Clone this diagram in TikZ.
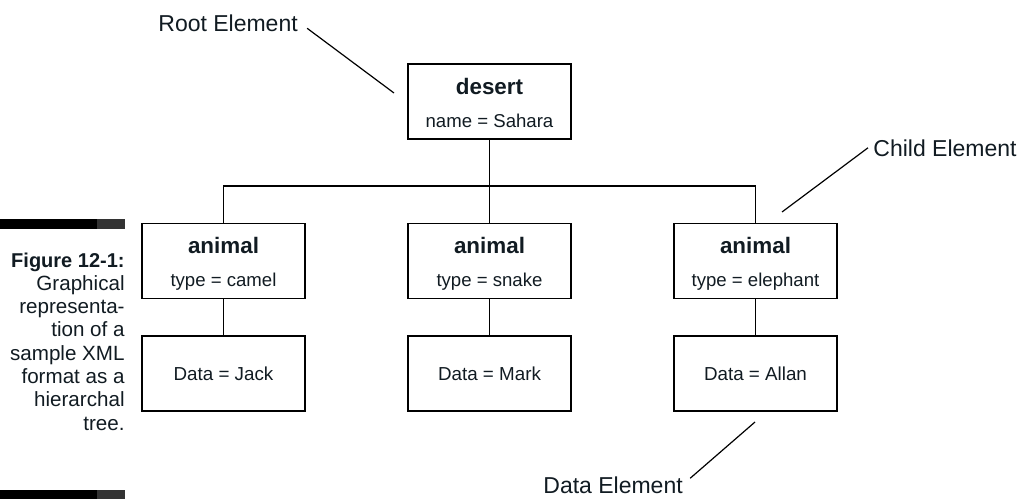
\documentclass[tikz,border=0pt]{standalone}
\usepackage{fontspec}
\setmainfont{Liberation Sans}
\usepackage{tikz}

\definecolor{ink}{HTML}{111B22}
\definecolor{bargray}{HTML}{333333}

\tikzset{
  elem/.style={draw, line width=0.75pt, minimum width=81.5pt, minimum height=37.5pt, inner sep=0pt},
  tagname/.style={font=\bfseries\fontsize{11.2}{13}\selectfont, text=ink, anchor=base},
  attr/.style={font=\fontsize{9.3}{11}\selectfont, text=ink, anchor=base},
  callout/.style={font=\fontsize{11.5}{13}\selectfont, text=ink, anchor=base west, inner sep=0pt},
  caption/.style={font=\fontsize{10.3}{12}\selectfont, text=ink, anchor=base east, inner sep=0pt},
  link/.style={line width=0.6pt}
}

\begin{document}
\begin{tikzpicture}[x=0.5pt,y=-0.5pt]
  \useasboundingbox (0,0) rectangle (1022,499);

  % side caption with its two bars
  \fill (0,219) rectangle (97,229);
  \fill[bargray] (97,219) rectangle (125,229);
  \fill (0,490) rectangle (97,499);
  \fill[bargray] (97,490) rectangle (125,499);
  \node[caption, font=\bfseries\fontsize{10}{12}\selectfont] (fig) at (125,267) {Figure 12-1:};
  \foreach \ln [count=\i] in {Graphical, representa-, tion of a, sample XML, format as a, hierarchal, tree.}
    \node[caption] (cap\i) at (125,267+23.3*\i) {\ln};

  % root element
  \node[elem] (desert) at (489.5,101.5) {};
  \node[tagname] (desertT) at ([yshift=-15.5pt]desert.north) {desert};
  \node[attr] (desertA) at ([yshift=-32pt]desert.north) {name = Sahara};

  % child elements
  \node[elem] (camel) at (223.5,261) {};
  \node[tagname] (camelT) at ([yshift=-15.5pt]camel.north) {animal};
  \node[attr] (camelA) at ([yshift=-32pt]camel.north) {type = camel};

  \node[elem] (snake) at (489.5,261) {};
  \node[tagname] (snakeT) at ([yshift=-15.5pt]snake.north) {animal};
  \node[attr] (snakeA) at ([yshift=-32pt]snake.north) {type = snake};

  \node[elem] (elephant) at (755.5,261) {};
  \node[tagname] (elephantT) at ([yshift=-15.5pt]elephant.north) {animal};
  \node[attr] (elephantA) at ([yshift=-32pt]elephant.north) {type = elephant};

  % data elements
  \node[elem, font=\fontsize{9.4}{11}\selectfont, text=ink] (jack) at (223.5,373.5) {Data = Jack};
  \node[elem, font=\fontsize{9.4}{11}\selectfont, text=ink] (mark) at (489.5,373.5) {Data = Mark};
  \node[elem, font=\fontsize{9.4}{11}\selectfont, text=ink] (allan) at (755.5,373.5) {Data = Allan};

  % tree lines
  \coordinate (bus) at (489.5,186);
  \draw[link] (desert.south) -- (bus);
  \draw[link] (camel.north) |- (bus) -| (elephant.north);
  \draw[link] (bus) -- (snake.north);
  \draw[link] (camel.south) -- (jack.north);
  \draw[link] (snake.south) -- (mark.north);
  \draw[link] (elephant.south) -- (allan.north);

  % callouts
  \node[callout] (rootlbl) at (158,31) {Root Element};
  \coordinate (rootpt) at (394,93);
  \draw[link] ([xshift=4.5pt,yshift=-2.75pt]rootlbl.east) -- (rootpt);

  \node[callout] (childlbl) at (873,156) {Child Element};
  \coordinate (childpt) at (782,212);
  \draw[link] ([xshift=-2.5pt]childlbl.west) -- (childpt);

  \node[callout] (datalbl) at (543,493) {Data Element};
  \coordinate (datapt) at (755,422);
  \draw[link] ([xshift=3.5pt,yshift=3.25pt]datalbl.east) -- (datapt);
\end{tikzpicture}
\end{document}
